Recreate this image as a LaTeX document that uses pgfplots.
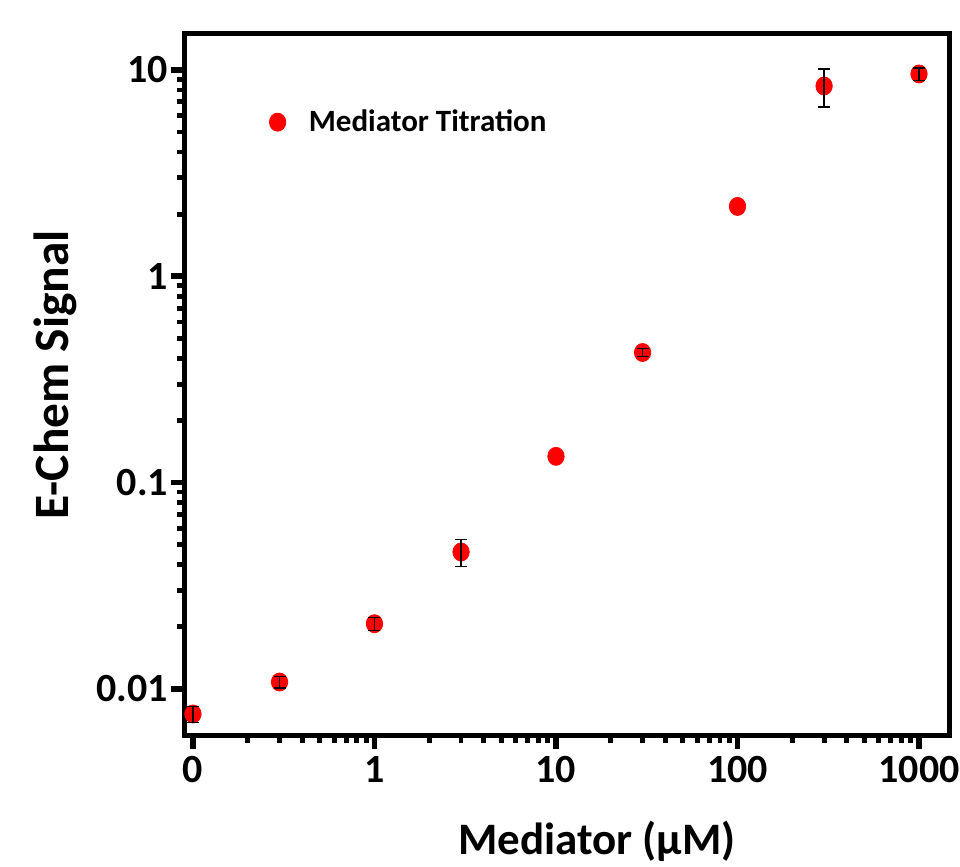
\documentclass[border=0pt]{standalone}
\usepackage{pgfplots}
\pgfplotsset{compat=1.18}
\usepackage{fontspec}
\setmainfont{Carlito}
\begin{document}
\begin{tikzpicture}
\path[use as bounding box] (0pt,0pt) rectangle (480pt,433.5pt);
\begin{axis}[
  at={(92.5pt,66pt)}, anchor=south west,
  width=382pt, height=351pt, scale only axis,
  clip=false, clip marker paths=true,
  xmode=log, ymode=log,
  xmin=0.0904, xmax=1463, ymin=0.00598, ymax=15.1,
  xtick={0.1,1,10,100,1000}, xticklabels={0,1,10,100,1000},
  ytick={0.01,0.1,1,10}, yticklabels={0.01,0.1,1,10},
  xtick pos=bottom, ytick pos=left, tick align=outside,
  axis line style={line width=2.5pt},
  major tick length=7pt, minor tick length=4pt,
  every major tick/.style={line width=2.8pt, black},
  every minor tick/.style={line width=2.4pt, black},
  ticklabel style={font=\fontsize{20}{20}\selectfont\bfseries},
  yticklabel style={xshift=2pt},
  label style={font=\fontsize{22.5}{24}\selectfont\bfseries},
  xlabel={Mediator (\textmu M)},
  ylabel={E-Chem Signal},
  xlabel style={at={(axis description cs:0.539,-0.1515)}, anchor=center},
  ylabel style={at={(axis description cs:-0.170,0.513)}, anchor=center, font=\fontsize{24.7}{26}\selectfont\bfseries},
  legend style={draw=none, fill=none, at={(axis description cs:0.110,0.873)}, anchor=west, inner sep=0pt,
    font=\fontsize{15.5}{16}\selectfont\bfseries,
    /tikz/every odd column/.append style={column sep=9.5pt}},
  legend cell align=left,
]
\addplot[only marks, mark=*, color=red, mark size=4.1pt, mark options={yscale=1.1, draw=red, fill=red}]
  table[x=x, y=y] {
  x     y
  0.1   0.00756
  0.3   0.0108
  1     0.0207
  3     0.0461
  10    0.134
  30    0.427
  100   2.18
  300   8.36
  1000  9.56
  };
\addlegendentry{Mediator Titration}
\addplot[draw=none, mark=none, forget plot,
  error bars/.cd, y dir=both, y explicit,
  error bar style={draw=black, line width=0.6pt},
  error mark options={rotate=90, mark size=3pt, draw=black, line width=0.6pt}]
  table[x=x, y=y, y error=e] {
  x     y        e
  0.1   0.00756  0.00067
  0.3   0.0108   0.0007
  1     0.0207   0.0015
  3     0.0461   0.0070
  30    0.427    0.019
  300   8.36     1.75
  1000  9.56     0.65
  };
\end{axis}
\end{tikzpicture}
\end{document}
